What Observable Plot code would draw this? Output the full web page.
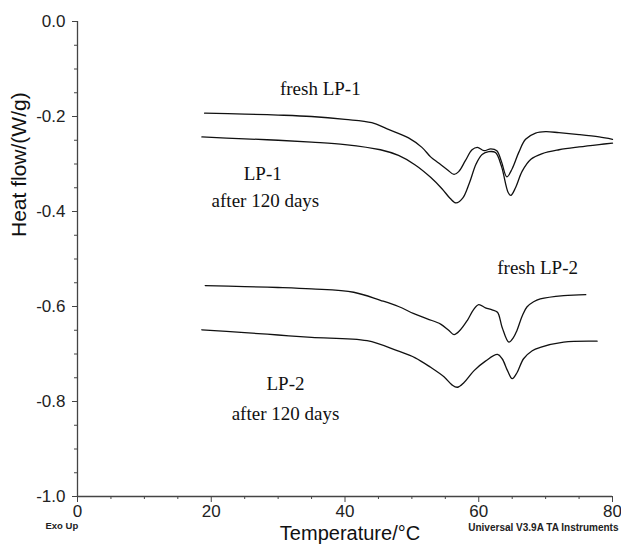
<!DOCTYPE html>
<html>
<head>
<meta charset="utf-8">
<script src="https://cdn.jsdelivr.net/npm/d3@7"></script>
<script src="https://cdn.jsdelivr.net/npm/@observablehq/plot@0.6"></script>
<style>
  html, body { margin: 0; padding: 0; background: #fff; }
</style>
</head>
<body>
<div id="chart"></div>
<script>
// Temperature (°C), heat flow (W/g)
const freshLP1 = [
  [19,-0.193],[25,-0.195],[30,-0.197],[35,-0.200],[40,-0.206],[44,-0.213],[46.3,-0.226],
  [49.5,-0.245],[51.5,-0.265],[52.8,-0.285],[54,-0.298],[55.3,-0.312],[56.3,-0.322],
  [57,-0.316],[58,-0.293],[59,-0.270],[59.8,-0.265],[60.8,-0.272],[61.8,-0.268],[62.7,-0.272],
  [63.4,-0.295],[64.2,-0.327],[65,-0.310],[66,-0.275],[67,-0.248],[68.5,-0.235],[70,-0.232],
  [72,-0.234],[75,-0.238],[78,-0.243],[80,-0.248]
];
const agedLP1 = [
  [18.6,-0.243],[25,-0.247],[30,-0.250],[35,-0.254],[40,-0.259],[45.3,-0.270],[48,-0.282],
  [50.5,-0.302],[52.8,-0.328],[54.5,-0.352],[55.7,-0.372],[56.6,-0.382],[57.6,-0.372],
  [58.6,-0.340],[59.6,-0.300],[60.5,-0.280],[61.5,-0.274],[62.5,-0.276],[63.4,-0.305],
  [64.4,-0.360],[64.8,-0.366],[65.5,-0.350],[66.5,-0.315],[67.8,-0.290],[69.5,-0.278],
  [72,-0.270],[75,-0.264],[78,-0.259],[80,-0.256]
];
const freshLP2 = [
  [19.1,-0.556],[25,-0.558],[30,-0.560],[35,-0.563],[41.3,-0.570],[45.3,-0.587],[48,-0.600],
  [50.3,-0.615],[52.3,-0.626],[54.3,-0.637],[55.5,-0.650],[56.3,-0.659],[57.2,-0.650],
  [58.3,-0.629],[59.2,-0.607],[60.0,-0.596],[61.0,-0.603],[62.0,-0.607],[62.8,-0.612],
  [63.5,-0.644],[64.5,-0.675],[65.2,-0.665],[65.7,-0.651],[66.5,-0.620],[67.2,-0.601],
  [68.2,-0.590],[69.2,-0.584],[72.7,-0.577],[76.0,-0.575]
];
const agedLP2 = [
  [18.6,-0.649],[25,-0.655],[30,-0.660],[35,-0.665],[43.3,-0.672],[47.8,-0.693],[50.5,-0.708],
  [52.8,-0.728],[54.8,-0.748],[56.0,-0.765],[56.8,-0.770],[57.8,-0.760],[59.3,-0.735],
  [61.0,-0.715],[62.8,-0.701],[63.5,-0.710],[64.3,-0.735],[65.0,-0.752],[65.7,-0.740],
  [66.7,-0.710],[68.0,-0.693],[69.2,-0.686],[72.7,-0.675],[77.7,-0.673]
];

const xTicks = [0, 20, 40, 60, 80];
const xMinorTicks = [5,10,15,25,30,35,45,50,55,65,70,75];
const yTicks = [0, -0.2, -0.4, -0.6, -0.8, -1.0];
const yMinorTicks = [-0.05,-0.1,-0.15,-0.25,-0.3,-0.35,-0.45,-0.5,-0.55,-0.65,-0.7,-0.75,-0.85,-0.9,-0.95];

const labelText = ["fresh LP-1", "LP-1", "after 120 days", "fresh LP-2", "LP-2", "after 120 days"];
const labelT = [36.3, 27.7, 28.1, 68.8, 31.1, 31.1];
const labelV = [-0.141, -0.32, -0.377, -0.518, -0.762, -0.827];
const labels = labelText.map((t, i) => ({text: t, T: labelT[i], v: labelV[i]}));

const sans = "'Liberation Sans', Arial, sans-serif";
const serif = "'Liberation Serif', 'Times New Roman', serif";
const narrow = "'Liberation Sans Narrow', 'Liberation Sans', Arial, sans-serif";
const lineOpts = {x: d => d[0], y: d => d[1], stroke: "#111", strokeWidth: 1.3, curve: "catmull-rom"};

const chart = Plot.plot({
  width: 621,
  height: 547,
  marginLeft: 77,
  marginRight: 9,
  marginTop: 21,
  marginBottom: 51,
  x: {domain: [0, 80]},
  y: {domain: [-1, 0]},
  style: {fontFamily: sans, fontSize: "17px", color: "#222", background: "#fff"},
  marks: [
    Plot.axisY({ticks: yMinorTicks, tickSize: 3, tickFormat: () => "", label: null, stroke: "#444"}),
    Plot.axisY({ticks: yTicks, tickSize: 5, tickPadding: 7, tickFormat: d => d.toFixed(1), label: null, stroke: "#444", fontSize: 17}),
    Plot.axisX({ticks: xMinorTicks, tickSize: 3, tickFormat: () => "", label: null, stroke: "#444"}),
    Plot.axisX({ticks: xTicks, tickSize: 6, tickPadding: 2, tickFormat: d => String(d), label: null, stroke: "#444", fontSize: 17}),
    Plot.ruleX([0], {stroke: "#444", strokeWidth: 1.3}),
    Plot.ruleY([-1], {stroke: "#444", strokeWidth: 1.3}),
    Plot.line(freshLP1, lineOpts),
    Plot.line(agedLP1, lineOpts),
    Plot.line(freshLP2, lineOpts),
    Plot.line(agedLP2, lineOpts),
    Plot.text(labels, {x: "T", y: "v", text: "text", fontFamily: serif, fontSize: 19, fill: "#111"}),
    Plot.text(["Heat flow/(W/g)"], {frameAnchor: "left", dx: -58, dy: -22, rotate: -90, fontSize: 21, fill: "#111"}),
    Plot.text(["Temperature/°C"], {frameAnchor: "bottom", dx: 5, dy: 43, fontSize: 20, fill: "#111"}),
    Plot.text(["Exo Up"], {frameAnchor: "bottom-left", dx: -32, dy: 32, fontSize: 9.5, fontWeight: "bold", fontFamily: narrow, fill: "#222"}),
    Plot.text(["Universal V3.9A TA Instruments"], {frameAnchor: "bottom-right", dx: 6, dy: 34, textAnchor: "end", fontSize: 10, fontWeight: "bold", fontFamily: narrow, fill: "#222"})
  ]
});
document.getElementById("chart").appendChild(chart);
</script>
</body>
</html>
